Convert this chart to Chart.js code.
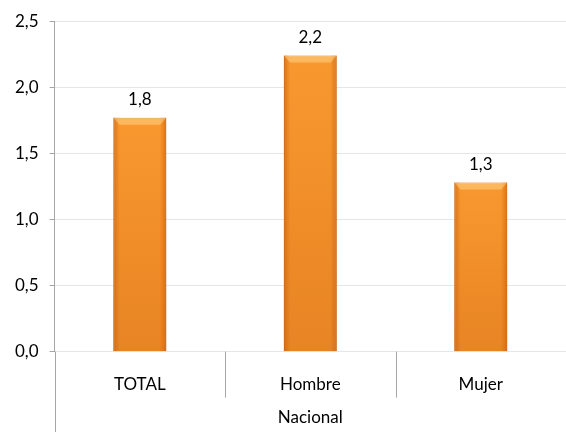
<!DOCTYPE html>
<html>
<head>
<meta charset="utf-8">
<script src="https://cdn.jsdelivr.net/npm/chart.js@4"></script>
<style>
  html, body { margin: 0; padding: 0; background: #fff; }
  #wrap { width: 566px; height: 432px; position: relative; }
</style>
</head>
<body>
<div id="wrap"><canvas id="chart"></canvas></div>
<script>
// Tasa por sexo - Nacional
const categories = ['TOTAL', 'Hombre', 'Mujer'];
const groupLabel = 'Nacional';
const values = [1.77, 2.24, 1.28];
const yTicks = [0, 0.5, 1.0, 1.5, 2.0, 2.5];

const FONT = 'Lato, "Open Sans", sans-serif';
const SIZE = 17;
const fmt = v => v.toFixed(1).replace('.', ',');

// bevel / shading on top of the plain bars
const barShade = {
  id: 'barShade',
  afterDatasetsDraw(chart) {
    const c = chart.ctx;
    chart.getDatasetMeta(0).data.forEach(bar => {
      const left = bar.x - bar.width / 2, right = bar.x + bar.width / 2;
      const top = bar.y, bottom = bar.base, w = bar.width;
      c.save();
      let g = c.createLinearGradient(left, 0, right, 0);
      g.addColorStop(0, 'rgba(190,90,10,0.55)');
      g.addColorStop(0.12, 'rgba(190,90,10,0)');
      g.addColorStop(0.88, 'rgba(190,90,10,0)');
      g.addColorStop(1, 'rgba(190,90,10,0.55)');
      c.fillStyle = g;
      c.fillRect(left, top, w, bottom - top);
      g = c.createLinearGradient(0, top, 0, bottom);
      g.addColorStop(0, 'rgba(200,95,15,0)');
      g.addColorStop(1, 'rgba(200,95,15,0.35)');
      c.fillStyle = g;
      c.fillRect(left, top, w, bottom - top);
      c.beginPath();
      c.moveTo(left, top);
      c.lineTo(right, top);
      c.lineTo(right - 6, top + 7);
      c.lineTo(left + 6, top + 7);
      c.closePath();
      c.fillStyle = 'rgba(255,215,140,0.5)';
      c.fill();
      c.restore();
    });
  }
};

// value labels above bars
const valueLabels = {
  id: 'valueLabels',
  afterDatasetsDraw(chart) {
    const c = chart.ctx;
    c.save();
    c.font = SIZE + 'px ' + FONT;
    c.fillStyle = '#000';
    c.textAlign = 'center';
    c.textBaseline = 'middle';
    chart.getDatasetMeta(0).data.forEach((bar, i) => {
      c.fillText(fmt(values[i]), bar.x, bar.y - 18);
    });
    c.restore();
  }
};

// multi-level category axis: separators + group label
const groupAxis = {
  id: 'groupAxis',
  afterDraw(chart) {
    const c = chart.ctx, x = chart.scales.x, area = chart.chartArea;
    const half = (x.getPixelForValue(1) - x.getPixelForValue(0)) / 2;
    c.save();
    c.strokeStyle = '#a6a6a6';
    c.lineWidth = 1;
    c.beginPath();
    for (let i = 0; i < categories.length - 1; i++) {
      const px = Math.round(x.getPixelForValue(i) + half) + 0.5;
      c.moveTo(px, area.bottom);
      c.lineTo(px, area.bottom + 46);
    }
    const lx = Math.round(area.left) + 0.5;
    c.moveTo(lx, area.bottom);
    c.lineTo(lx, chart.height);
    c.stroke();
    c.font = SIZE + 'px ' + FONT;
    c.fillStyle = '#000';
    c.textAlign = 'center';
    c.textBaseline = 'middle';
    c.fillText(groupLabel, (area.left + area.right) / 2, 418);
    c.restore();
  }
};

new Chart(document.getElementById('chart'), {
  type: 'bar',
  data: {
    labels: categories,
    datasets: [{
      data: values,
      backgroundColor: '#F9982F',
      borderColor: '#D9761F',
      borderWidth: 1,
      categoryPercentage: 1,
      barPercentage: 0.31
    }]
  },
  options: {
    responsive: true,
    maintainAspectRatio: false,
    animation: false,
    layout: { padding: { top: 12, right: 0, bottom: 22, left: 4 } },
    plugins: { legend: { display: false }, tooltip: { enabled: false } },
    scales: {
      x: {
        grid: { display: false },
        border: { display: false },
        ticks: { color: '#000', font: { family: FONT, size: SIZE }, padding: 15 }
      },
      y: {
        min: 0, max: 2.5,
        afterBuildTicks: axis => { axis.ticks = yTicks.map(v => ({ value: v })); },
        grid: { color: '#e6e6e6', tickLength: 5, tickColor: '#a6a6a6' },
        border: { color: '#a6a6a6' },
        ticks: { color: '#000', font: { family: FONT, size: SIZE }, padding: 11, callback: v => fmt(v) }
      }
    }
  },
  plugins: [barShade, valueLabels, groupAxis]
});
</script>
</body>
</html>
